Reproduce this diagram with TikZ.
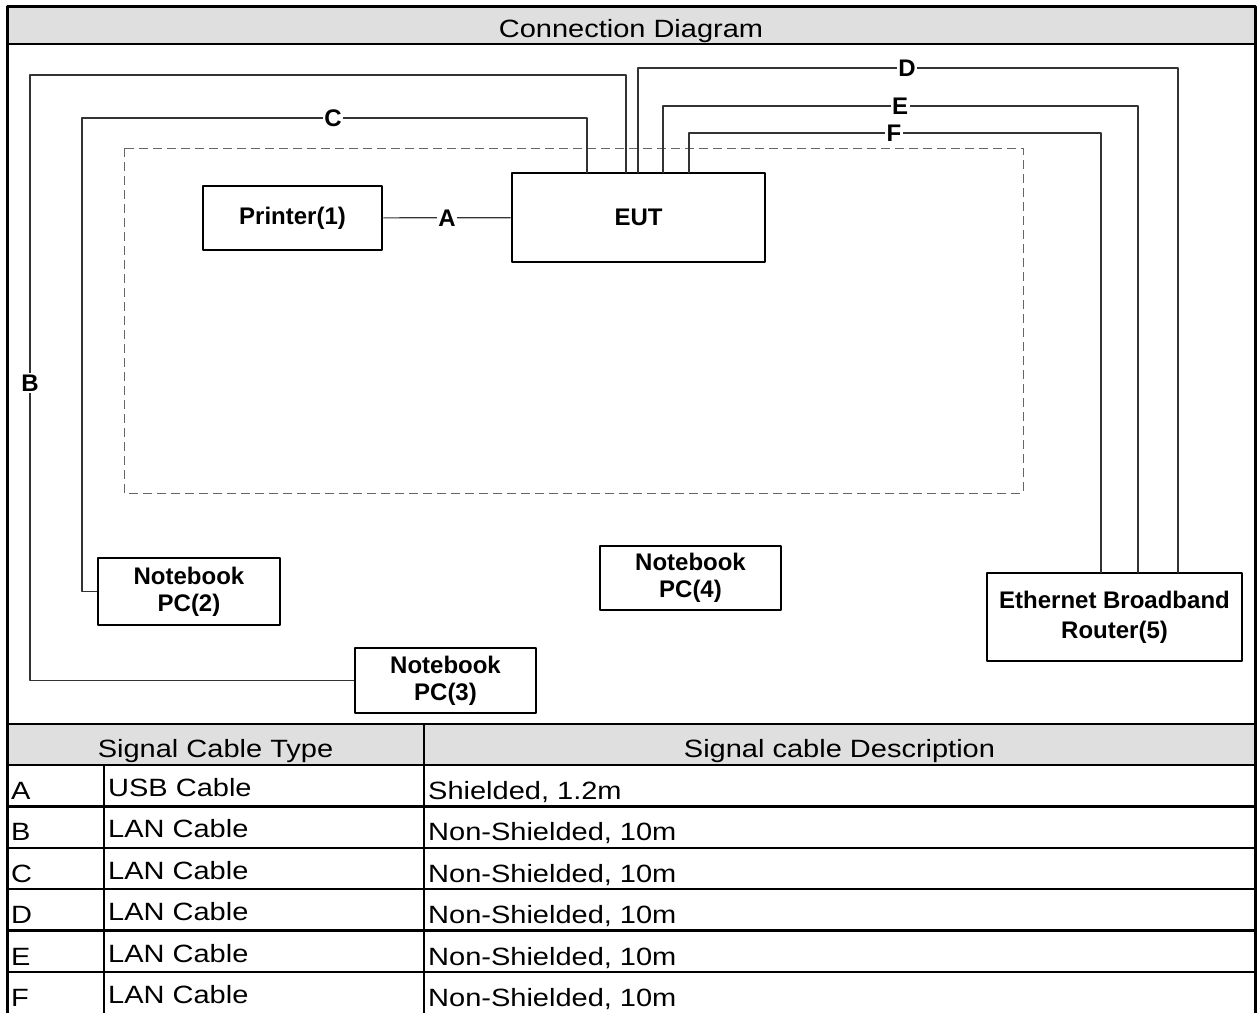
\documentclass[tikz,border=0pt]{standalone}
\usepackage{fontspec}
\setmainfont{Liberation Sans}
\newfontfamily\widefont{Liberation Sans}[FakeStretch=1.16]
\definecolor{hdrgray}{HTML}{DFDFDF}
\tikzset{
  unitbox/.style={draw, line width=2.8pt, align=center, inner sep=0pt,
    font=\bfseries\fontsize{24}{27}\selectfont},
  cable/.style={line width=1.2pt, draw=black!80},
  lbl/.style={fill=white, inner sep=1.5pt, font=\bfseries\fontsize{24}{24}\selectfont},
  tabline/.style={line width=2.5pt},
  cell/.style={inner sep=0pt, anchor=base west, font=\widefont\fontsize{25}{30}\selectfont}
}
\begin{document}
\begin{tikzpicture}[x=1pt, y=-1pt, line join=round]
\useasboundingbox (0,0) rectangle (1258,1012);
% header bands
\fill[hdrgray] (7,6) rectangle (1255,44);
\fill[hdrgray] (7,724) rectangle (1255,765);
\node[cell, anchor=base] (title) at (631,37) {Connection Diagram};
% test area
\draw[gray!80!black, line width=1pt, dash pattern=on 9pt off 5pt] (124,148) rectangle (1023,493);
% units
\node[unitbox, minimum width=179pt, minimum height=64pt] (printer) at (292.5,218) {Printer(1)};
\node[unitbox, minimum width=253pt, minimum height=89pt] (eut) at (638.5,217.5) {EUT};
\node[unitbox, minimum width=182pt, minimum height=67pt] (pc2) at (189,591.5) {Notebook\\PC(2)};
\node[unitbox, minimum width=181pt, minimum height=65pt] (pc3) at (445.5,680.5) {Notebook\\PC(3)};
\node[unitbox, minimum width=181pt, minimum height=64pt] (pc4) at (690.5,578) {Notebook\\PC(4)};
\node[unitbox, minimum width=255pt, minimum height=88pt, font=\bfseries\fontsize{24}{30}\selectfont] (router) at (1114.5,617) {Ethernet Broadband\\Router(5)};
% ports
\coordinate (eutC) at (587,173);
\coordinate (eutB) at (626,173);
\coordinate (eutD) at (638,173);
\coordinate (eutE) at (663,173);
\coordinate (eutF) at (689,173);
\coordinate (rtF) at (1101,573);
\coordinate (rtE) at (1138,573);
\coordinate (rtD) at (1178,573);
% cables
\draw[cable] (printer) -- (eut) node[lbl, pos=0.5] {A};
\draw[cable] (eutB) |- (30,75) -- (30,383) node[lbl] {B} |- (pc3.west);
\draw[cable] (eutC) |- (333,118) node[lbl] {C} -| (82,300) |- (pc2.west);
\draw[cable] (eutD) |- (907,68) node[lbl] {D} -| (rtD);
\draw[cable] (eutE) |- (900,106) node[lbl] {E} -| (rtE);
\draw[cable] (eutF) |- (894,133) node[lbl] {F} -| (rtF);
% table
\draw[tabline] (7,44) -- (1255,44);
\draw[tabline] (7,724) -- (1255,724);
\draw[tabline] (7,765) -- (1255,765);
\foreach \k in {1,...,5}
  \draw[tabline] (7,{765+\k*41.4}) -- (1255,{765+\k*41.4});
\draw[tabline] (424,724) -- (424,1020);
\draw[tabline] (104,765) -- (104,1020);
\node[cell, anchor=base] at (215.5,757) {Signal Cable Type};
\node[cell, anchor=base] at (839.5,757) {Signal cable Description};
\foreach \c/\t/\d [count=\i] in {A/USB Cable/{Shielded, 1.2m}, B/LAN Cable/{Non-Shielded, 10m},
    C/LAN Cable/{Non-Shielded, 10m}, D/LAN Cable/{Non-Shielded, 10m},
    E/LAN Cable/{Non-Shielded, 10m}, F/LAN Cable/{Non-Shielded, 10m}}{
  \node[cell] at (11,{765+\i*41.4-7}) {\c};
  \node[cell] at (108,{765+\i*41.4-10}) {\t};
  \node[cell] at (428,{765+\i*41.4-7}) {\d};
}
% frame
\draw[line width=3pt] (7,1030) -- (7,6) -- (1255,6) -- (1255,1030);
\end{tikzpicture}
\end{document}
